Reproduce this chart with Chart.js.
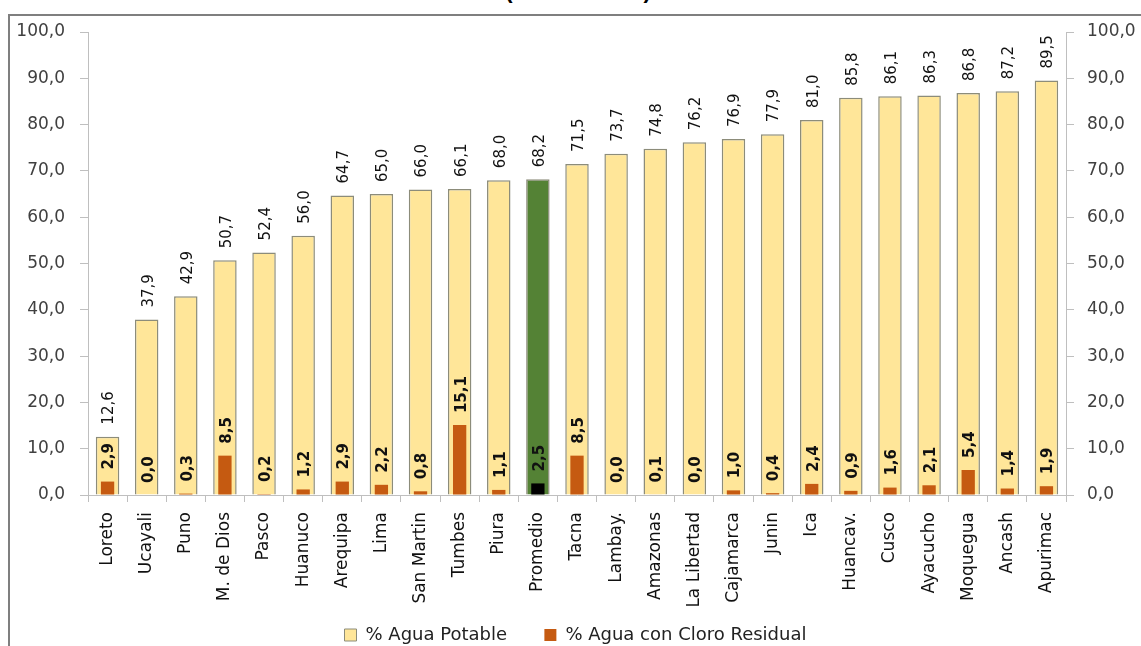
<!DOCTYPE html>
<html>
<head>
<meta charset="utf-8">
<script src="https://cdn.jsdelivr.net/npm/chart.js@4"></script>
<style>
  body { margin: 0; background: #fff; width: 1141px; height: 646px; overflow: hidden; position: relative; }
  #titulo { position: absolute; left: 0; width: 1156px; top: -22px; text-align: center;
            font: bold 22px "Liberation Sans", Arial, sans-serif; color: #000; }
  #marco { position: absolute; left: 8px; top: 14px; width: 1160px; height: 660px;
           border-left: 2px solid #7f7f7f; border-top: 2px solid #7f7f7f; }
  #grafico { position: absolute; left: 10px; top: 16px; }
</style>
</head>
<body>
<div id="titulo">(% Población)</div>
<div id="marco"></div>
<canvas id="grafico" width="1131" height="630"></canvas>
<script>
// datos del grafico
const regiones = ['Loreto', 'Ucayali', 'Puno', 'M. de Dios', 'Pasco', 'Huanuco', 'Arequipa', 'Lima', 'San Martin', 'Tumbes', 'Piura', 'Promedio', 'Tacna', 'Lambay.', 'Amazonas', 'La Libertad', 'Cajamarca', 'Junin', 'Ica', 'Huancav.', 'Cusco', 'Ayacucho', 'Moquegua', 'Ancash', 'Apurimac'];
const aguaPotable = [12.6, 37.9, 42.9, 50.7, 52.4, 56.0, 64.7, 65.0, 66.0, 66.1, 68.0, 68.2, 71.5, 73.7, 74.8, 76.2, 76.9, 77.9, 81.0, 85.8, 86.1, 86.3, 86.8, 87.2, 89.5];
const aguaCloro = [2.9, 0.0, 0.3, 8.5, 0.2, 1.2, 2.9, 2.2, 0.8, 15.1, 1.1, 2.5, 8.5, 0.0, 0.1, 0.0, 1.0, 0.4, 2.4, 0.9, 1.6, 2.1, 5.4, 1.4, 1.9];
const ticksY = [0, 10, 20, 30, 40, 50, 60, 70, 80, 90, 100];

const coma = v => v.toFixed(1).replace('.', ',');

// colores, el promedio va distinto
const colPotable = regiones.map(r => r === 'Promedio' ? '#548235' : '#ffe699');
const colCloro = regiones.map(r => r === 'Promedio' ? '#000000' : '#c55a11');

// etiquetas giradas encima de cada barra
const etiquetas = {
    id: 'etiquetas',
    afterDatasetsDraw(chart) {
        const ctx = chart.ctx;
        chart.data.datasets.forEach((ds, i) => {
            const meta = chart.getDatasetMeta(i);
            meta.data.forEach((bar, j) => {
                ctx.save();
                ctx.translate(bar.x + 2, bar.y - 12);
                ctx.rotate(-Math.PI / 2);
                ctx.textAlign = 'left';
                ctx.textBaseline = 'middle';
                ctx.fillStyle = '#111';
                ctx.font = (i === 1 ? '600 ' : '') + '15px "DejaVu Sans"';
                ctx.fillText(coma(ds.data[j]), 0, 0);
                ctx.restore();
            });
        });
    }
};

const ejeY = (pos) => ({
    position: pos,
    min: 0,
    max: 100,
    afterBuildTicks: s => { s.ticks = ticksY.map(v => ({ value: v })); },
    afterFit: s => {
        s.width = pos === 'left' ? 78 : 75;
        s.paddingTop = 0;
        s.paddingBottom = 0;
    },
    grid: { drawOnChartArea: false, drawTicks: true, tickLength: 8, color: '#bfbfbf' },
    border: { color: '#bfbfbf', width: 1 },
    ticks: {
        padding: pos === 'left' ? 15 : 13,
        color: '#404040',
        font: { family: 'DejaVu Sans', size: 17 },
        callback: v => coma(v)
    }
});

new Chart(document.getElementById('grafico'), {
    type: 'bar',
    data: {
        labels: regiones,
        datasets: [{
            label: '% Agua Potable',
            data: aguaPotable,
            backgroundColor: colPotable,
            borderColor: '#8c8c7a',
            borderWidth: 1.5,
            barPercentage: 0.6,
            categoryPercentage: 1,
            grouped: false,
            order: 1
        }, {
            label: '% Agua con Cloro Residual',
            data: aguaCloro,
            backgroundColor: colCloro,
            borderWidth: 0,
            barPercentage: 0.34,
            categoryPercentage: 1,
            grouped: false,
            order: 0
        }]
    },
    options: {
        responsive: false,
        animation: false,
        layout: { padding: { top: 16, left: 0, right: 0, bottom: -8 } },
        plugins: {
            tooltip: { enabled: false },
            legend: {
                position: 'bottom',
                labels: {
                    sort: (a, b) => a.datasetIndex - b.datasetIndex,
                    boxWidth: 12,
                    boxHeight: 12,
                    padding: 3,
                    color: '#222',
                    font: { family: 'DejaVu Sans', size: 18 },
                    generateLabels: chart => chart.data.datasets.map((ds, i) => ({
                        text: i === 0 ? ds.label + '      ' : ds.label,
                        fillStyle: i === 0 ? '#ffe699' : '#c55a11',
                        strokeStyle: i === 0 ? '#8c8c7a' : '#c55a11',
                        lineWidth: i === 0 ? 1 : 0,
                        datasetIndex: i,
                        fontColor: '#222'
                    }))
                }
            }
        },
        scales: {
            x: {
                grid: { drawOnChartArea: false, drawTicks: true, tickLength: 7, color: '#bfbfbf', offset: true },
                border: { color: '#bfbfbf', width: 1 },
                afterFit: s => { s.height = 128; },
                ticks: {
                    maxRotation: 90,
                    minRotation: 90,
                    autoSkip: false,
                    padding: 10,
                    color: '#111',
                    font: { family: 'DejaVu Sans', size: 17 }
                }
            },
            y: ejeY('left'),
            y2: ejeY('right')
        }
    },
    plugins: [etiquetas]
});
</script>
</body>
</html>
